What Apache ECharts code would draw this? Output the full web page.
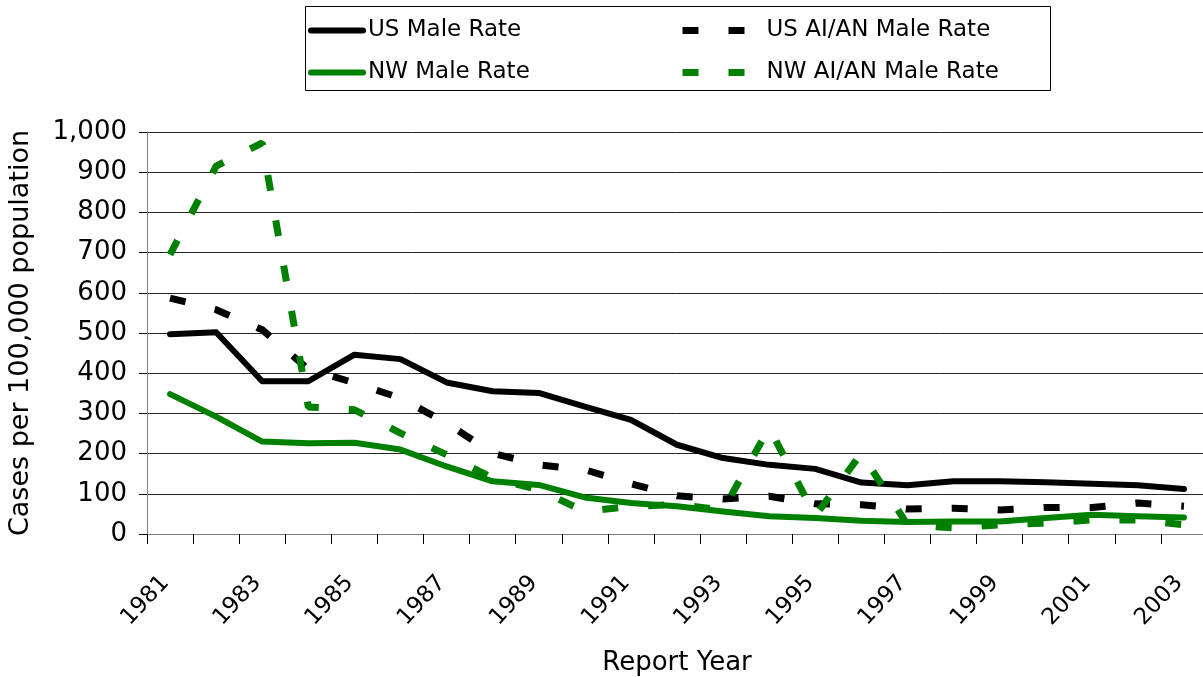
<!DOCTYPE html>
<html>
<head>
<meta charset="utf-8">
<script src="https://cdn.jsdelivr.net/npm/echarts@6/dist/echarts.min.js"></script>
<style>
  html, body { margin: 0; padding: 0; background: #fff; }
  #main { width: 1203px; height: 677px; }
</style>
</head>
<body>
<div id="main"></div>
<script>
// report years 1981-2003
const years = ["1981", "1982", "1983", "1984", "1985", "1986", "1987", "1988", "1989", "1990", "1991", "1992",
  "1993", "1994", "1995", "1996", "1997", "1998", "1999", "2000", "2001", "2002", "2003"];

// cases per 100,000 population
const usMaleRate = [497, 502, 380, 380, 446, 435, 377, 355, 351, 317, 284, 222, 189, 172, 162, 128, 121, 131, 131, 129, 125, 121, 112];
const nwMaleRate = [348, 292, 230, 226, 227, 210, 168, 131, 122, 91, 77, 69, 56, 44, 40, 33, 30, 31, 31, 40, 48, 44, 41];
const usAianMaleRate = [587, 558, 508, 410, 376, 338, 276, 201, 172, 160, 125, 95, 87, 94, 75, 73, 62, 64, 60, 66, 66, 77, 69];
const nwAianMaleRate = [695, 915, 973, 316, 309, 251, 197, 139, 110, 56, 69, 73, 60, 264, 45, 201, 23, 15, 23, 27, 35, 35, 23];

const FONT = "DejaVu Sans";
const BLACK = "#000000";
const GREEN = "#008000";

const chart = echarts.init(document.getElementById("main"));

const option = {
  animation: false,
  backgroundColor: "#fff",
  textStyle: { fontFamily: FONT },
  graphic: [
    {
      type: "rect",
      left: 303,
      top: 4,
      shape: { width: 745, height: 84 },
      style: { fill: "none", stroke: "#000", lineWidth: 1 },
      z: -1
    }
  ],
  legend: [
    {
      // left column: solid lines
      orient: "vertical",
      left: 303,
      top: 14,
      itemWidth: 52,
      itemHeight: 14,
      itemGap: 19,
      data: ["US Male Rate", "NW Male Rate"],
      itemStyle: { opacity: 0 },
      lineStyle: { width: 6, cap: "round" },
      textStyle: { fontSize: 23, color: "#000", fontFamily: FONT }
    },
    {
      // right column: dashed lines
      orient: "vertical",
      left: 674,
      top: 14,
      itemWidth: 62,
      itemHeight: 14,
      itemGap: 19,
      data: ["US AI/AN Male Rate", "NW AI/AN Male Rate"],
      itemStyle: { opacity: 0 },
      lineStyle: { width: 7 },
      textStyle: { fontSize: 23, color: "#000", fontFamily: FONT, padding: [0, 0, 0, 17] }
    }
  ],
  grid: {
    left: 147,
    top: 132,
    width: 1060,
    height: 402,
    outerBoundsMode: "none",
    containLabel: false
  },
  xAxis: {
    type: "category",
    data: years,
    boundaryGap: true,
    name: "Report Year",
    nameLocation: "middle",
    nameGap: 116,
    nameTextStyle: { fontSize: 26, color: "#000", fontFamily: FONT },
    axisLine: { lineStyle: { color: "#808080", width: 1 } },
    axisTick: { show: true, interval: 0, length: 10, lineStyle: { color: "#000" } },
    axisLabel: {
      interval: 1,
      rotate: 47,
      margin: 40,
      padding: [0, 7, 0, 0],
      fontSize: 23,
      color: "#000",
      fontFamily: FONT
    },
    splitLine: { show: false }
  },
  yAxis: {
    type: "value",
    min: 0,
    max: 1000,
    interval: 100,
    name: "Cases per 100,000 population",
    nameLocation: "middle",
    nameGap: 113,
    nameTextStyle: { fontSize: 27, color: "#000", fontFamily: FONT },
    axisLine: { show: true, lineStyle: { color: "#808080", width: 1 } },
    axisTick: { show: true, length: 8, lineStyle: { color: "#000" } },
    axisLabel: {
      fontSize: 26,
      color: "#000",
      margin: 20,
      fontFamily: FONT,
      formatter: (v) => v.toLocaleString("en-US")
    },
    splitLine: { show: true, lineStyle: { color: "#222", width: 1 } }
  },
  series: [
    {
      name: "US Male Rate",
      type: "line",
      data: usMaleRate,
      symbol: "none",
      lineStyle: { color: BLACK, width: 6, cap: "round", join: "round" },
      itemStyle: { color: BLACK }
    },
    {
      name: "US AI/AN Male Rate",
      type: "line",
      data: usAianMaleRate,
      symbol: "none",
      lineStyle: { color: BLACK, width: 7, type: [16, 30], cap: "butt" },
      itemStyle: { color: BLACK }
    },
    {
      name: "NW Male Rate",
      type: "line",
      data: nwMaleRate,
      symbol: "none",
      lineStyle: { color: GREEN, width: 6, cap: "round", join: "round" },
      itemStyle: { color: GREEN }
    },
    {
      name: "NW AI/AN Male Rate",
      type: "line",
      data: nwAianMaleRate,
      symbol: "none",
      lineStyle: { color: GREEN, width: 7, type: [16, 30], cap: "butt" },
      itemStyle: { color: GREEN }
    }
  ]
};

chart.setOption(option);
</script>
</body>
</html>
